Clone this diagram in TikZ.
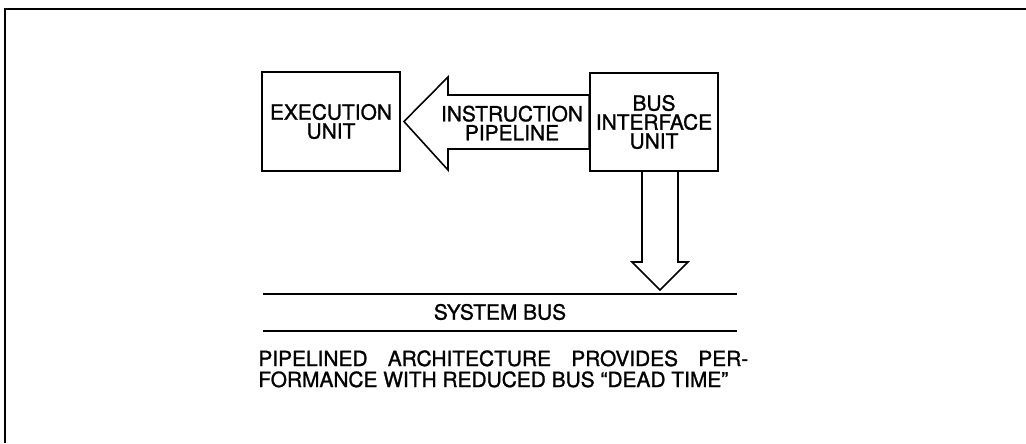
\documentclass[tikz,border=0pt]{standalone}
\usepackage{fontspec}
\setmainfont{TeX Gyre Heros}[FakeBold=1.2]

\begin{document}
\begin{tikzpicture}
[x=0.02cm, y=-0.02cm,
 font=\fontsize{11.9}{10.8}\selectfont,
 unitnode/.style={rectangle, draw=black, line width=1.1pt, align=center, inner sep=0pt},
 textnode/.style={align=center, inner sep=0pt},
 hollowarrow/.style={draw=black, line width=0.9pt, line join=miter},
 busline/.style={draw=black, line width=0.9pt}]
\useasboundingbox (0,0) rectangle (1026,443);
\draw[line width=1.7pt] (1026,9) -- (5,9) -- (5,443);
\node[unitnode, minimum width=2.76cm, minimum height=1.98cm]	(exec)	at (331,121.5)	{EXECUTION\\UNIT};
\node[unitnode, minimum width=2.56cm, minimum height=1.96cm]	(biu)	at (654,122)	{BUS\\INTERFACE\\UNIT};
\draw[hollowarrow] ([xshift=0.06cm]exec.east) -- (448,77) -- (448,95) -- (biu.west |- 0,95)
  -- (biu.west |- 0,149) -- (448,149) -- (448,170) -- cycle;
\node[textnode]	(pipe)	at (512,123)	{INSTRUCTION\\PIPELINE};
\draw[hollowarrow] (642,0 |- biu.south) -- (642,262) -- (632,262) -- (660,290) -- (688,262) -- (678,262) -- (678,0 |- biu.south);
\draw[busline] (263,294) -- (737,294);
\draw[busline] (263,331) -- (737,331);
\node[textnode]	(bus)	at (500,312)	{SYSTEM BUS};
\node[anchor=base west, inner sep=0pt]	(cap1)	at (258,366)	{\makebox[9.8cm][s]{PIPELINED ARCHITECTURE PROVIDES PER-}};
\node[anchor=base west, inner sep=0pt]	(cap2)	at (258,387)	{FORMANCE WITH REDUCED BUS “DEAD TIME”};
\end{tikzpicture}
\end{document}
